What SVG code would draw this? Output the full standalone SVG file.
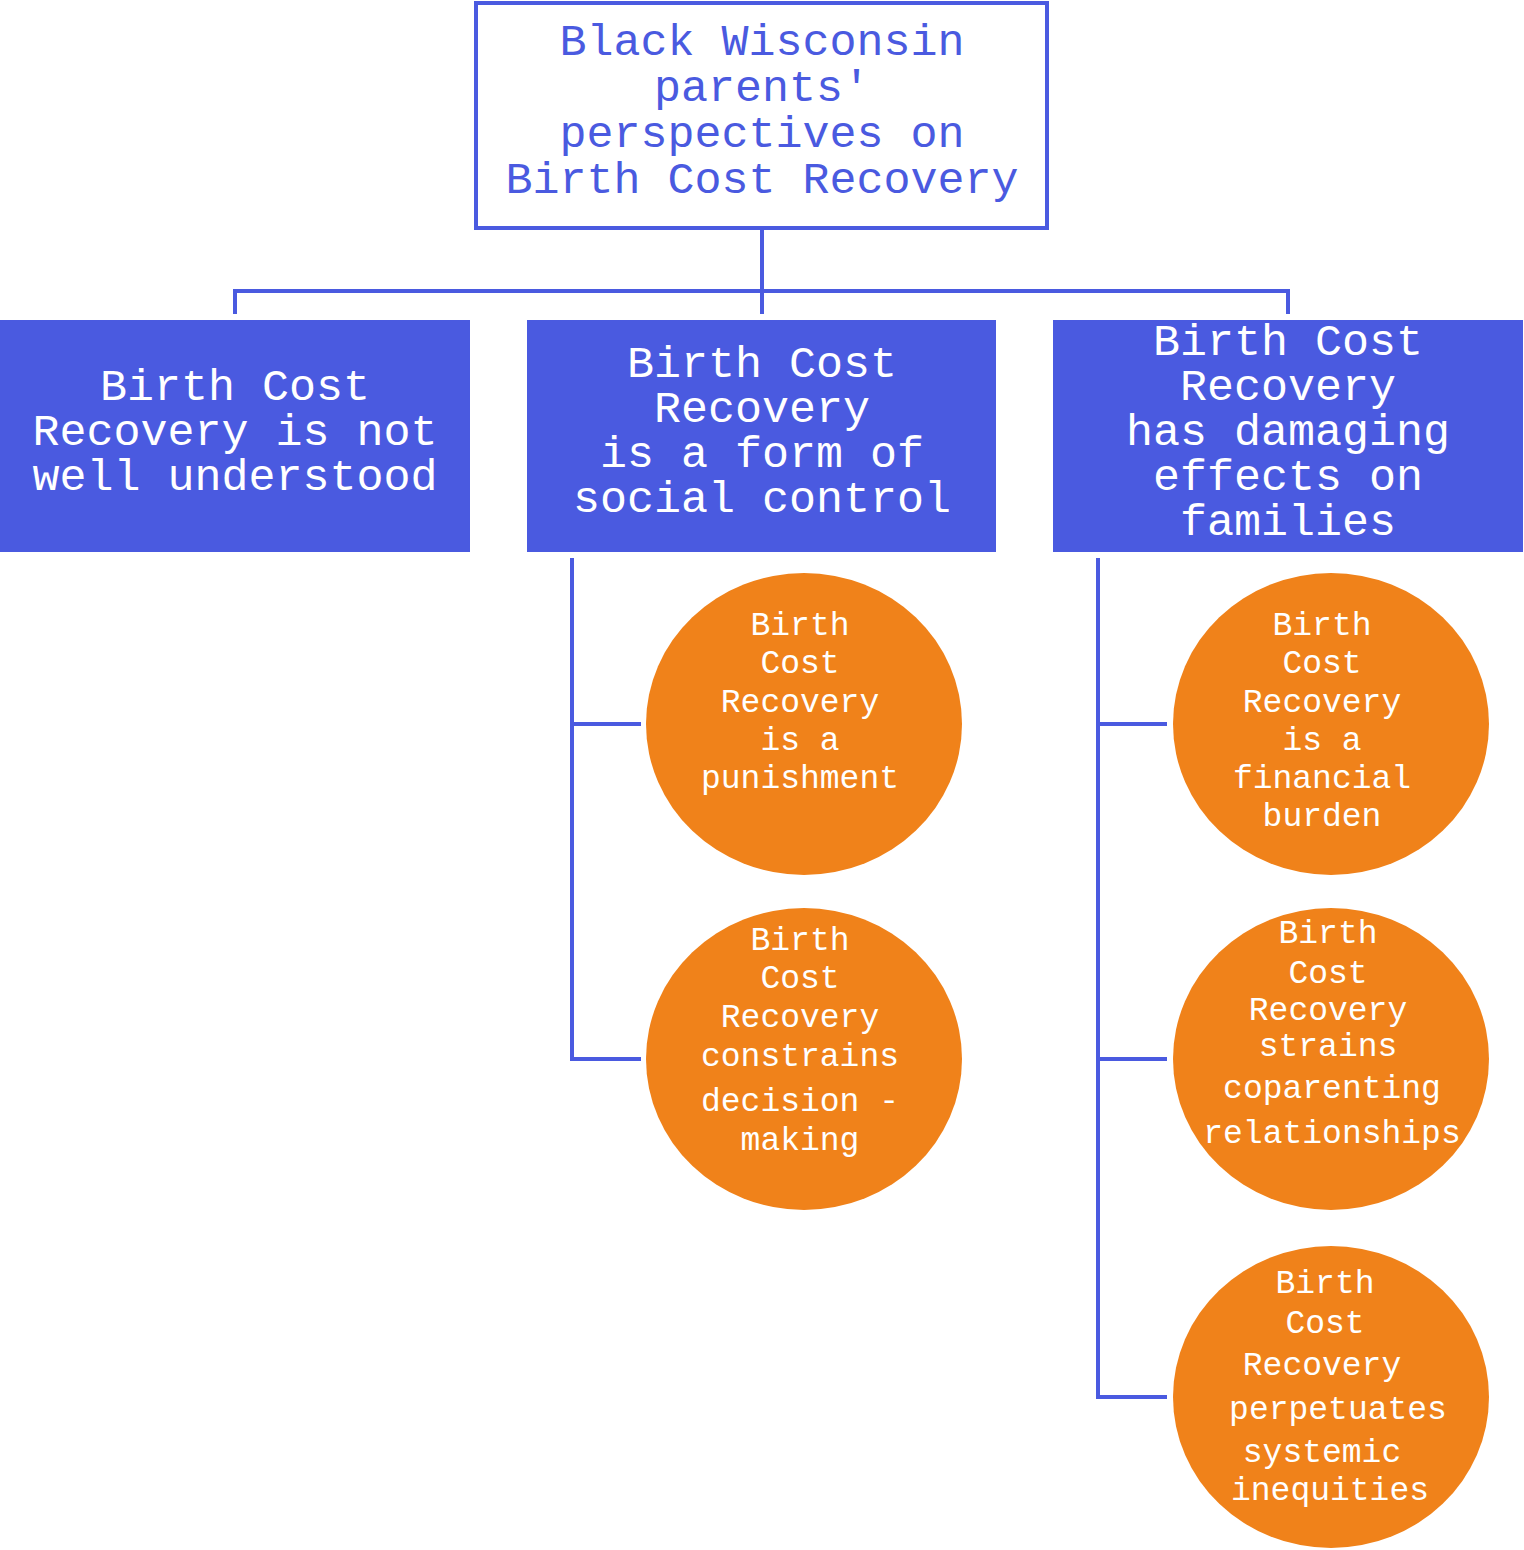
<svg xmlns="http://www.w3.org/2000/svg" width="1524" height="1550" viewBox="0 0 1524 1550">
<style>
.t{font-family:"Liberation Mono","DejaVu Sans Mono",monospace;text-anchor:middle}
.top{fill:#4a5ae0;font-size:45px}
.box{fill:#ffffff;font-size:45px}
.c{fill:#ffffff;font-size:33px}
.ln{stroke:#4a5ae0;stroke-width:4;fill:none}
.bx{fill:#4a5ae0}
.ci{fill:#f0821a}
</style>
<g id="connectors">
<path class="ln" d="M762 228V291M235 314V291H1288V314M762 291V314"/>
<path class="ln" d="M641 724H572V558M572 724V1059H641"/>
<path class="ln" d="M1167 724H1098V558M1098 724V1397H1167M1098 1059H1167"/>
</g>
<g id="root">
<rect x="476" y="3" width="571" height="225" fill="#fff" stroke="#4a5ae0" stroke-width="4"/>
<text class="t top"><tspan x="762" y="55">Black Wisconsin</tspan><tspan x="762" y="101">parents'</tspan><tspan x="762" y="147">perspectives on</tspan><tspan x="762" y="193">Birth Cost Recovery</tspan></text>
</g>
<g id="n1"><rect class="bx" x="0" y="320" width="470" height="232"/>
<text class="t box"><tspan x="235" y="400">Birth Cost</tspan><tspan x="235" y="445">Recovery is not</tspan><tspan x="235" y="490">well understood</tspan></text></g>
<g id="n2"><rect class="bx" x="527" y="320" width="469" height="232"/>
<text class="t box"><tspan x="762" y="377">Birth Cost</tspan><tspan x="762" y="422">Recovery</tspan><tspan x="762" y="467">is a form of</tspan><tspan x="762" y="512">social control</tspan></text></g>
<g id="n3"><rect class="bx" x="1053" y="320" width="470" height="232"/>
<text class="t box"><tspan x="1288" y="355">Birth Cost</tspan><tspan x="1288" y="400">Recovery</tspan><tspan x="1288" y="445">has damaging</tspan><tspan x="1288" y="490">effects on</tspan><tspan x="1288" y="535">families</tspan></text></g>
<g id="c1"><ellipse class="ci" cx="804" cy="724" rx="158" ry="151"/>
<text class="t c"><tspan x="800" y="635">Birth</tspan><tspan x="800" y="673">Cost</tspan><tspan x="800" y="712">Recovery</tspan><tspan x="800" y="750">is a</tspan><tspan x="800" y="788">punishment</tspan></text></g>
<g id="c2"><ellipse class="ci" cx="804" cy="1059" rx="158" ry="151"/>
<text class="t c"><tspan x="800" y="950">Birth</tspan><tspan x="800" y="988">Cost</tspan><tspan x="800" y="1027">Recovery</tspan><tspan x="800" y="1066">constrains</tspan><tspan x="800" y="1111">decision -</tspan><tspan x="800" y="1150">making</tspan></text></g>
<g id="c3"><ellipse class="ci" cx="1331" cy="724" rx="158" ry="151"/>
<text class="t c"><tspan x="1322" y="635">Birth</tspan><tspan x="1322" y="673">Cost</tspan><tspan x="1322" y="712">Recovery</tspan><tspan x="1322" y="750">is a</tspan><tspan x="1322" y="788">financial</tspan><tspan x="1322" y="826">burden</tspan></text></g>
<g id="c4"><ellipse class="ci" cx="1331" cy="1059" rx="158" ry="151"/>
<text class="t c"><tspan x="1328" y="943">Birth</tspan><tspan x="1328" y="983">Cost</tspan><tspan x="1328" y="1020">Recovery</tspan><tspan x="1328" y="1056">strains</tspan><tspan x="1332" y="1098">coparenting</tspan><tspan x="1332" y="1143">relationships</tspan></text></g>
<g id="c5"><ellipse class="ci" cx="1331" cy="1397" rx="158" ry="151"/>
<text class="t c"><tspan x="1325" y="1293">Birth</tspan><tspan x="1325" y="1333">Cost</tspan><tspan x="1322" y="1375">Recovery</tspan><tspan x="1338" y="1419">perpetuates</tspan><tspan x="1322" y="1462">systemic</tspan><tspan x="1330" y="1500">inequities</tspan></text></g>
</svg>
